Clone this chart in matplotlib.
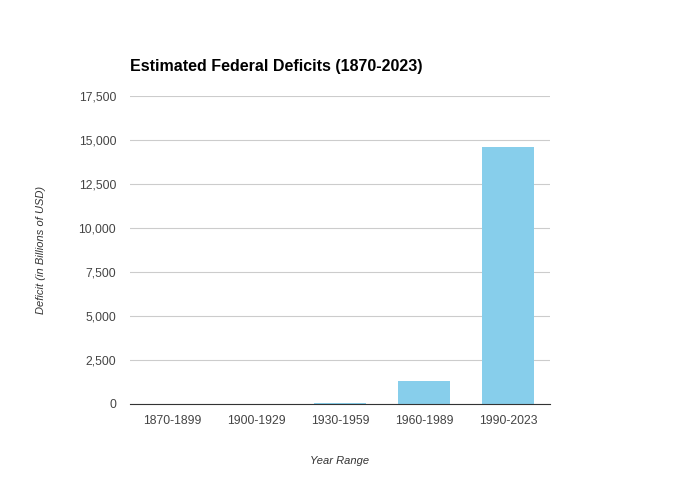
import matplotlib
matplotlib.use("Agg")
import matplotlib.pyplot as plt
from matplotlib.ticker import FuncFormatter

# data
periods = ["1870-1899", "1900-1929", "1930-1959", "1960-1989", "1990-2023"]
deficits = [5, 20, 60, 1300, 14600]   # billions of USD
y_ticks = [0, 2500, 5000, 7500, 10000, 12500, 15000, 17500]

plt.rcParams['font.family'] = ['Liberation Sans', 'DejaVu Sans']

fig = plt.figure(figsize=(6.8, 5), dpi=100)
ax = fig.add_axes([130/680, 96/500, 420/680, 308/500])

ax.bar(range(len(periods)), deficits, width=0.62, color="#87ceeb", zorder=2)

ax.set_xlim(-0.5, len(periods) - 0.5)
ax.set_ylim(0, 17500)
ax.set_yticks(y_ticks)
ax.yaxis.set_major_formatter(FuncFormatter(lambda v, p: f"{int(v):,}"))
ax.set_xticks(range(len(periods)))
ax.set_xticklabels(periods)

ax.grid(axis="y", color="#cccccc", linewidth=0.8, zorder=0)
for s in ["top", "right", "left"]:
    ax.spines[s].set_visible(False)
ax.spines["bottom"].set_color("#333333")
ax.spines["bottom"].set_zorder(3)
ax.tick_params(axis="both", length=0, labelsize=8.7, colors="#444444", pad=8)
ax.tick_params(axis="y", pad=10)

fig.text(130/680, 1 - 67/500, "Estimated Federal Deficits (1870-2023)",
         fontsize=11.5, fontweight="bold", va="center", ha="left", color="#000000")
fig.text(340/680, 1 - 461/500, "Year Range", fontsize=8, style="italic",
         ha="center", va="center", color="#333333")
fig.text(41/680, 1 - 250/500, "Deficit (in Billions of USD)", fontsize=8,
         style="italic", rotation=90, ha="center", va="center", color="#333333")

fig.savefig("out.png", dpi=100)
